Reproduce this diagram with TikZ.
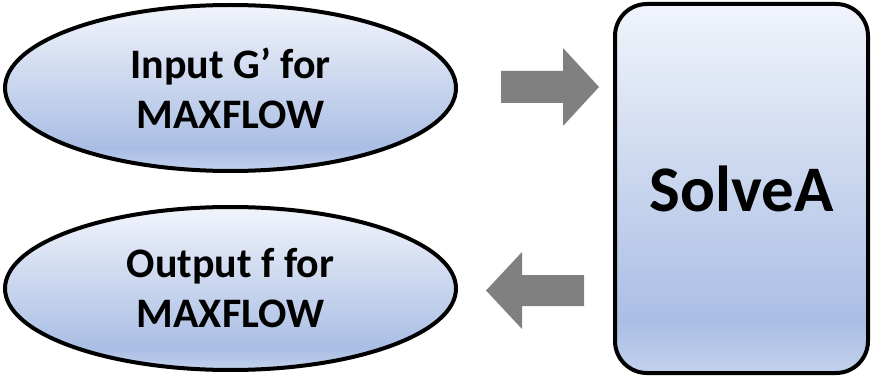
\documentclass[tikz,border=0pt]{standalone}
\usepackage{fontspec}
\setmainfont{Carlito}
\usetikzlibrary{shapes.geometric}
\definecolor{gtop}{HTML}{F1F4FB}
\definecolor{gmid}{HTML}{AABEE4}
\definecolor{gbot}{HTML}{C2D1EC}
\definecolor{arrowgray}{HTML}{808080}
\pgfdeclareverticalshading{office}{100bp}{color(0bp)=(gbot); color(25bp)=(gbot); color(32bp)=(gmid); color(75bp)=(gtop); color(100bp)=(gtop)}
\tikzset{
  oval/.style={ellipse, draw=black, line width=4pt, shading=office, inner sep=0pt,
    minimum width=451pt, align=center, font=\fontsize{42}{50}\selectfont\bfseries},
  solver/.style={rectangle, draw=black, line width=4pt, shading=office, rounded corners=32pt,
    minimum width=253pt, minimum height=369pt, font=\fontsize{65}{66}\selectfont\bfseries},
  blockarrow/.style={fill=arrowgray, draw=none}
}
\begin{document}
\begin{tikzpicture}[x=1pt,y=-1pt]
\useasboundingbox (0,0) rectangle (871,377);
\node[oval, minimum height=166pt] (in) at (230.5,88) {Input G’ for\\MAXFLOW};
\node[oval, minimum height=163pt] (out) at (230.5,288.5) {Output f for\\MAXFLOW};
\node[solver] (solve) at (741.5,188.5) {SolveA};
\coordinate (a1) at (501,87);
\coordinate (a2) at (599,87);
\coordinate (b1) at (584,290.5);
\coordinate (b2) at (486,290.5);
\fill[blockarrow] (a1) ++(0,-16) -- ++(62,0) -- ++(0,-23) -- (a2) -- (563,126) -- ++(0,-23) -- (501,103) -- cycle;
\fill[blockarrow] (b1) ++(0,-15.5) -- ++(-62,0) -- ++(0,-23) -- (b2) -- (522,329) -- ++(0,-23) -- (584,306) -- cycle;
\end{tikzpicture}
\end{document}
